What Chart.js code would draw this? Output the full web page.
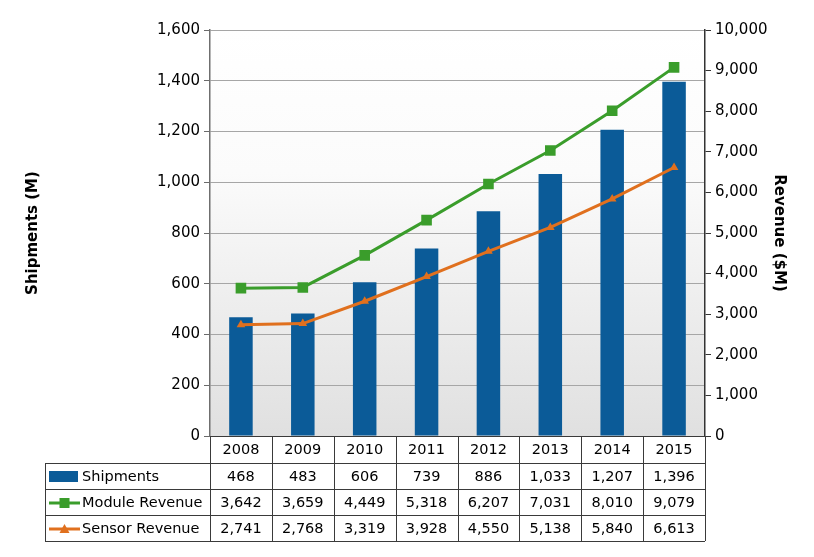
<!DOCTYPE html>
<html>
<head>
<meta charset="utf-8">
<script src="https://cdn.jsdelivr.net/npm/chart.js@4.4.0/dist/chart.umd.min.js"></script>
<style>
  html, body { margin: 0; padding: 0; background: #fff; }
</style>
</head>
<body>
<canvas id="chart" width="814" height="557"></canvas>
<script>
const years = ['2008', '2009', '2010', '2011', '2012', '2013', '2014', '2015'];
const shipments = [468, 483, 606, 739, 886, 1033, 1207, 1396];
const moduleRevenue = [3642, 3659, 4449, 5318, 6207, 7031, 8010, 9079];
const sensorRevenue = [2741, 2768, 3319, 3928, 4550, 5138, 5840, 6613];

const blue = '#0b5b98';
const green = '#3a9d2b';
const orange = '#e0701e';
const font = 'DejaVu Sans';

const fmt = v => v.toLocaleString('en-US');

// grey gradient behind the plot
const plotBackground = {
    id: 'plotBackground',
    beforeDraw(chart) {
        const { ctx, chartArea: a } = chart;
        const g = ctx.createLinearGradient(0, a.top, 0, a.bottom);
        g.addColorStop(0, '#ffffff');
        g.addColorStop(0.35, '#fbfbfb');
        g.addColorStop(1, '#e0e0e0');
        ctx.save();
        ctx.fillStyle = g;
        ctx.fillRect(a.left, a.top, a.right - a.left, a.bottom - a.top);
        ctx.restore();
    }
};

// data table under the plot
const dataTable = {
    id: 'dataTable',
    afterDraw(chart) {
        const { ctx, chartArea: a, scales: { x } } = chart;
        const headH = 27, rowH = 26, tableLeft = 45;
        const top = a.bottom;
        const rowsTop = top + headH;
        const bottom = rowsTop + rowH * 3;

        const edges = [a.left];
        for (let i = 0; i < years.length - 1; i++) {
            edges.push((x.getPixelForValue(i) + x.getPixelForValue(i + 1)) / 2);
        }
        edges.push(a.right);

        ctx.save();
        ctx.strokeStyle = '#3a3a3a';
        ctx.lineWidth = 1;
        ctx.beginPath();
        // header row
        ctx.moveTo(a.left, top + 0.5); ctx.lineTo(a.right, top + 0.5);
        edges.forEach(e => {
            const px = Math.round(e) + 0.5;
            ctx.moveTo(px, top); ctx.lineTo(px, bottom);
        });
        // body rows
        for (let r = 0; r <= 3; r++) {
            const py = Math.round(rowsTop + r * rowH) + 0.5;
            ctx.moveTo(tableLeft, py); ctx.lineTo(a.right, py);
        }
        ctx.moveTo(tableLeft + 0.5, rowsTop); ctx.lineTo(tableLeft + 0.5, bottom);
        ctx.stroke();

        ctx.fillStyle = '#000';
        ctx.font = '14.5px "' + font + '"';
        ctx.textAlign = 'center';
        ctx.textBaseline = 'middle';
        years.forEach((y, i) => {
            ctx.fillText(y, x.getPixelForValue(i), top + headH / 2 + 1);
        });

        const rows = [
            { label: 'Shipments', data: shipments, kind: 'bar' },
            { label: 'Module Revenue', data: moduleRevenue, kind: 'square' },
            { label: 'Sensor Revenue', data: sensorRevenue, kind: 'triangle' }
        ];
        rows.forEach((row, r) => {
            const cy = rowsTop + r * rowH + rowH / 2 + 1;
            ctx.textAlign = 'center';
            ctx.fillStyle = '#000';
            row.data.forEach((v, i) => ctx.fillText(fmt(v), x.getPixelForValue(i), cy));

            // legend key
            const kx = tableLeft + 4, kw = 31, kc = kx + kw / 2;
            if (row.kind === 'bar') {
                ctx.fillStyle = blue;
                ctx.fillRect(kx, cy - 6, kw - 2, 11);
            } else if (row.kind === 'square') {
                ctx.strokeStyle = green; ctx.lineWidth = 3;
                ctx.beginPath(); ctx.moveTo(kx, cy); ctx.lineTo(kx + kw, cy); ctx.stroke();
                ctx.fillStyle = green;
                ctx.fillRect(kc - 5, cy - 5, 10, 10);
            } else {
                ctx.strokeStyle = orange; ctx.lineWidth = 3;
                ctx.beginPath(); ctx.moveTo(kx, cy); ctx.lineTo(kx + kw, cy); ctx.stroke();
                ctx.fillStyle = orange;
                ctx.beginPath();
                ctx.moveTo(kc, cy - 5); ctx.lineTo(kc + 5, cy + 4); ctx.lineTo(kc - 5, cy + 4);
                ctx.closePath(); ctx.fill();
            }
            ctx.fillStyle = '#000';
            ctx.textAlign = 'left';
            ctx.fillText(row.label, tableLeft + 37, cy);
        });
        ctx.restore();
    }
};

new Chart(document.getElementById('chart').getContext('2d'), {
    type: 'bar',
    data: {
        labels: years,
        datasets: [
            {
                label: 'Module Revenue',
                type: 'line',
                data: moduleRevenue,
                yAxisID: 'y1',
                borderColor: green,
                backgroundColor: green,
                borderWidth: 3,
                pointStyle: 'rect',
                pointRadius: 7.5,
                pointBorderWidth: 0,
                tension: 0,
                order: 0
            },
            {
                label: 'Sensor Revenue',
                type: 'line',
                data: sensorRevenue,
                yAxisID: 'y1',
                borderColor: orange,
                backgroundColor: orange,
                borderWidth: 3,
                pointStyle: 'triangle',
                pointRadius: 5,
                pointBorderWidth: 0,
                tension: 0,
                order: 1
            },
            {
                label: 'Shipments',
                data: shipments,
                yAxisID: 'y',
                backgroundColor: blue,
                categoryPercentage: 1,
                barPercentage: 0.38,
                order: 2
            }
        ]
    },
    options: {
        responsive: false,
        animation: false,
        layout: { padding: { left: 20, right: 22, top: 30, bottom: 121 } },
        plugins: {
            legend: { display: false },
            tooltip: { enabled: false }
        },
        scales: {
            x: { display: false },
            y: {
                position: 'left',
                min: 0,
                max: 1600,
                ticks: { stepSize: 200, color: '#000', font: { family: font, size: 15 }, padding: 4 },
                grid: { color: '#a6a6a6', tickColor: '#6a6a6a', tickLength: 6 },
                border: { color: '#6f6f6f', width: 1.5 },
                title: { display: true, text: 'Shipments (M)', color: '#000', font: { family: font, size: 15, weight: 'bold' } },
                afterFit(scale) { scale.width = 190; }
            },
            y1: {
                position: 'right',
                min: 0,
                max: 10000,
                ticks: { stepSize: 1000, color: '#000', font: { family: font, size: 15 }, padding: 4 },
                grid: { drawOnChartArea: false, tickColor: '#333', tickLength: 6 },
                border: { color: '#333', width: 1.5 },
                title: { display: true, text: 'Revenue ($M)', color: '#000', font: { family: font, size: 15, weight: 'bold' } },
                afterFit(scale) { scale.width = 87; }
            }
        }
    },
    plugins: [plotBackground, dataTable]
});
</script>
</body>
</html>
